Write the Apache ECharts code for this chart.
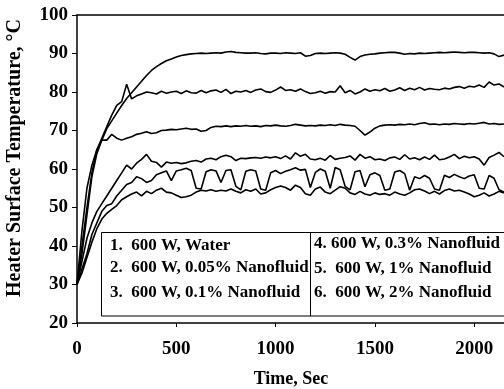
<!DOCTYPE html>
<html><head><meta charset="utf-8">
<script src="https://cdn.jsdelivr.net/npm/echarts@6/dist/echarts.min.js"></script>
<style>html,body{margin:0;padding:0;background:#fff}#c{width:504px;height:389px}</style>
</head><body><div id="c"></div>
<script>
const times = [
  0, 25, 50, 75, 100, 125, 150, 175, 200, 225,
  250, 275, 300, 325, 350, 375, 400, 425, 450, 475,
  500, 525, 550, 575, 600, 625, 650, 675, 700, 725,
  750, 775, 800, 825, 850, 875, 900, 925, 950, 975,
  1000, 1025, 1050, 1075, 1100, 1125, 1150, 1175, 1200, 1225,
  1250, 1275, 1300, 1325, 1350, 1375, 1400, 1425, 1450, 1475,
  1500, 1525, 1550, 1575, 1600, 1625, 1650, 1675, 1700, 1725,
  1750, 1775, 1800, 1825, 1850, 1875, 1900, 1925, 1950, 1975,
  2000, 2025, 2050, 2075, 2100, 2125, 2150
];
const seriesNames = [
  '1.  600 W, Water',
  '2.  600 W, 0.05% Nanofluid',
  '3.  600 W, 0.1% Nanofluid',
  '4. 600 W, 0.3% Nanofluid',
  '5.  600 W, 1% Nanofluid',
  '6.  600 W, 2% Nanofluid'
];
const water = [
  30, 38, 48, 58, 64, 67.5, 70.5, 72.5, 74.5, 76.5,
  78.3, 79.8, 81.3, 82.8, 84.3, 85.6, 86.6, 87.4, 88.1, 88.6,
  89.1, 89.5, 89.7, 89.9, 90, 90.1, 90, 90.1, 90.2, 90.1,
  90.4, 90.5, 90.3, 90.2, 90.1, 90.1, 90.2, 90, 89.9, 90.1,
  90.1, 90, 90.2, 90.1, 90, 90.2, 89.3, 89.5, 90, 90.1,
  90, 90.1, 90.2, 90.1, 89.8, 89, 88.3, 89.2, 89.6, 89.8,
  89.9, 90.1, 90.2, 90.3, 90.3, 90.1, 89.8, 90, 89.9, 90.1,
  90, 90.1, 90.2, 90.3, 90.2, 90.3, 90.4, 90.3, 90.2, 90.3,
  90.3, 90.2, 90.1, 90.2, 89.9, 89.2, 89.6
];
const nf005 = [
  30, 40, 50, 59, 65, 68, 71, 74, 76.5, 77.5,
  82, 78.2, 79, 79.5, 80, 79.8, 79.5, 80.2, 79.7, 80,
  80.2, 79.6, 80.3, 79.8, 79.7, 80.4, 79.8, 80.3, 80.5, 79.9,
  80.7, 79.6, 80.2, 80, 80.4, 79.9, 80.5, 80.8, 80.1, 79.9,
  80.5, 81.3, 80.4, 80.6, 80.2, 80.8, 80.1, 79.6, 79.8, 80.2,
  79.7, 80.1, 80, 81.6, 79.8, 80.4, 79.5, 80, 80.8, 80.2,
  80.6, 80.3, 80.9, 80.2, 80.5, 81.1, 80.4, 81, 80.6, 81.2,
  80.5, 80.9, 80.7, 80.6, 81, 80.8, 81.2, 81.4, 81, 81.5,
  81.3, 81.8, 81.2, 82.6, 81.8, 82.1, 81.3
];
const nf01 = [
  30, 44, 55, 61, 65, 67.5, 67.5, 69, 68, 67.5,
  68, 68.4, 69, 69.3, 69.7, 69.2, 69.4, 70, 70.1, 70.3,
  70.2, 70.4, 70.6, 70.3, 70.4, 69.8, 70, 70.8, 71.1, 71,
  71.2, 71, 71.2, 71.1, 71.3, 71.1, 71.2, 71, 71.3, 71.2,
  71.4, 71.2, 71.1, 71.3, 71.6, 71.4, 71.2, 71.3, 71.2, 71.4,
  71.3, 71.5, 71.3, 71.6, 71.4, 71.3, 71.1, 70, 68.8, 69.6,
  70.6, 71.2, 71.4, 71.5, 71.4, 71.6, 71.5, 71.7, 71.5, 71.8,
  72, 71.6, 71.7, 71.5, 71.7, 71.6, 71.8, 71.7, 71.6, 71.8,
  71.7, 71.9, 72.1, 71.7, 71.8, 71.6, 71.7
];
const nf03 = [
  30, 36, 42, 46, 49, 51, 53, 55, 57, 59,
  61, 60, 61.5, 62.5, 63.8, 62, 61.7, 60.5, 61.8, 61.5,
  61.7, 61.4, 61.6, 62, 62.2, 61.8, 62.6, 62.8, 62.4, 63.2,
  63.6, 63.2, 62.2, 62.8, 62.7, 62.9, 63, 62.8, 63.1, 62.9,
  63.2, 62.7, 63.4, 62.6, 64.2, 63.3, 63.8, 62.6, 62.4, 62.8,
  62.3, 63.5, 62.5, 62.8, 63, 63.4, 62.3, 63.8, 62.8, 63.2,
  62.4, 62.6, 62.2, 62.9, 63.1, 62.5, 63.7, 62.6, 62.9, 62.4,
  63.1, 62.5, 63.6, 62.4, 62.6, 63.1, 63.8, 62.7, 63.3, 62.9,
  63.2, 62.6, 61, 63, 63.6, 64.3, 63.2
];
const nf1 = [
  30, 34, 38, 43, 46, 49, 50.5, 51, 53, 54.5,
  56, 56.5, 58, 57.5, 56.5, 57, 58.5, 59, 59.5, 57,
  59.5, 59.8, 60.2, 59.6, 55, 54.8, 59.3, 59.8, 59.5, 56.5,
  59.6, 59.8, 55.5, 54.6, 59.4, 59.8, 59.5, 54.8, 54.5, 59,
  59.6, 58.8, 59.4, 59.8, 60.3, 59.7, 59.9, 55.2, 59.1, 60,
  59.4, 55, 60.4, 59.8, 55.5, 54.6, 59.3, 59.6, 55.4, 58.5,
  59, 58.3, 54.5, 54.8, 59.2, 59.6, 58.8, 54.5, 58, 57.5,
  58.3, 57.6, 54.8, 54.5, 58.4, 57.8, 58.6, 58, 57.5, 58.2,
  58.5, 55, 54.8, 58.3, 57.6, 54.6, 54
];
const nf2 = [
  30, 33, 37, 41, 44.5, 47, 48.5, 49.5, 50.5, 52,
  52.8, 53.5, 54, 53, 54.2, 53.6, 54.5, 55, 54, 53.8,
  53.2, 52.6, 52.8, 53.2, 54, 54.5, 54.3, 54.6, 54.2, 54.5,
  54.3, 54.8, 54.2, 53.8, 54.6, 54.2, 54.8, 53.5, 53.8, 54.6,
  55.2, 55.6, 55.2, 54.5, 55.8, 55.2, 53.6, 53.2, 54.8, 55.3,
  54, 53.6, 54.5, 55.4, 55, 53.8, 53.4, 54.2, 53.5, 53.2,
  53.8, 53.4, 53.6, 53.2, 54, 53.5, 53.2, 53.8, 54.6, 54.8,
  54.3, 53.6, 54.2, 53.5, 54.4, 54.8, 54.3, 54.5, 54, 53.5,
  52.8, 53.2, 53.8, 53, 53.5, 54.2, 53.8
];
const yTicks = [20, 30, 40, 50, 60, 70, 80, 90, 100];
const xTitle = 'Time, Sec';
const yTitle = 'Heater Surface Temperature, °C';

const allValues = [water, nf005, nf01, nf03, nf1, nf2];
const FONT = '"Liberation Serif", "Times New Roman", serif';

const chart = echarts.init(document.getElementById('c'), null, {renderer: 'canvas'});
const series = allValues.map((vals, i) => ({
  name: seriesNames[i],
  type: 'line',
  showSymbol: false,
  symbol: 'none',
  animation: false,
  lineStyle: {color: '#000', width: 1.6},
  data: times.map((t, j) => [t, vals[j]]),
  z: 2
}));

const legendText = (text, x, y) => ({
  type: 'text', z: 101,
  style: {text: text, x: x, y: y, font: 'bold 17px ' + FONT, fill: '#000', verticalAlign: 'middle', align: 'left'}
});

chart.setOption({
  animation: false,
  backgroundColor: '#fff',
  grid: {left: 77, top: 15, right: 0, bottom: 66, containLabel: false},
  xAxis: [{
    type: 'value', min: 0, max: 2150, interval: 500,
    axisLine: {show: true, lineStyle: {color: '#000', width: 1.5}},
    axisTick: {show: true, inside: false, length: 4, lineStyle: {color: '#000', width: 1}},
    axisLabel: {color: '#000', fontFamily: FONT, fontWeight: 'bold', fontSize: 19, margin: 17, showMaxLabel: false,
      formatter: v => String(v)},
    splitLine: {show: false}
  }, {
    type: 'value', min: 0, max: 2150, position: 'top',
    axisLine: {show: true, onZero: false, lineStyle: {color: '#000', width: 1.5}},
    axisTick: {show: false}, axisLabel: {show: false}, splitLine: {show: false}
  }],
  yAxis: {
    type: 'value', min: yTicks[0], max: yTicks[yTicks.length - 1], interval: 10,
    axisLine: {show: true, lineStyle: {color: '#000', width: 1.5}},
    axisTick: {show: true, inside: false, length: 5, lineStyle: {color: '#000', width: 1}},
    axisLabel: {color: '#000', fontFamily: FONT, fontWeight: 'bold', fontSize: 19, margin: 9},
    splitLine: {show: false}
  },
  series: series,
  graphic: [
    {type: 'rect', z: 100, shape: {x: 101.5, y: 232.5, width: 405, height: 83.5},
     style: {fill: '#fff', stroke: '#000', lineWidth: 1}},
    {type: 'line', z: 100, shape: {x1: 310.5, y1: 232.5, x2: 310.5, y2: 316},
     style: {stroke: '#000', lineWidth: 1}},
    legendText(seriesNames[0], 110, 246),
    legendText(seriesNames[1], 110, 268),
    legendText(seriesNames[2], 110, 293),
    legendText(seriesNames[3], 314, 244),
    legendText(seriesNames[4], 314, 269),
    legendText(seriesNames[5], 314, 293),
    {type: 'text', z: 101, style: {text: xTitle, x: 291, y: 379, font: 'bold 18px ' + FONT, fill: '#000', align: 'center', verticalAlign: 'middle'}},
    {type: 'text', z: 101, x: 15, y: 158, rotation: Math.PI / 2,
     style: {text: yTitle, x: 0, y: 0, font: 'bold 20px ' + FONT, fill: '#000', align: 'center', verticalAlign: 'middle'}}
  ]
});
</script>
</body></html>
